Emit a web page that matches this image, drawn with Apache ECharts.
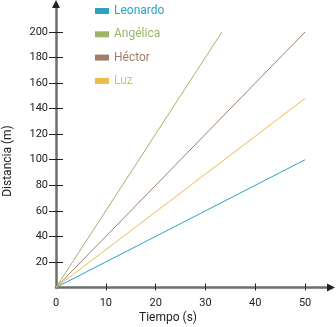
<!DOCTYPE html>
<html><head><meta charset="utf-8">
<script src="https://cdn.jsdelivr.net/npm/echarts@6/dist/echarts.min.js"></script>
<style>html,body{margin:0;padding:0;background:#fff}#c{width:336px;height:327px}</style>
</head><body><div id="c"></div>
<script>
const seriesNames = ['Leonardo', 'Angélica', 'Héctor', 'Luz'];
const seriesColors = ['#29a3bf', '#9bb567', '#a07d6b', '#e8bd4b'];
const leonardo = [[0, 0], [50, 100]];
const angelica = [[0, 0], [33.3, 200]];
const hector = [[0, 0], [50, 200]];
const luz = [[0, 0], [50, 148]];
const xTicks = [0, 10, 20, 30, 40, 50];
const yTicks = [20, 40, 60, 80, 100, 120, 140, 160, 180, 200];
const xName = 'Tiempo (s)';
const yName = 'Distancia (m)';

const chart = echarts.init(document.getElementById('c'));
const font = 'Roboto';
const axisCol = '#6e6e6e';
const dark = '#222';
const dataSets = [leonardo, angelica, hector, luz];

function xAx(inside, main) {
  return {
    type: 'value', min: 0, max: 55.2, position: 'bottom',
    axisLine: main
      ? { show: true, onZero: false, lineStyle: { color: axisCol, width: 2.5 } }
      : { show: true, onZero: false, lineStyle: { color: dark, width: 0 }, symbol: ['none', 'triangle'], symbolSize: [8, 8] },
    axisTick: { show: true, inside: inside, length: inside ? 4 : 3, customValues: xTicks.slice(1), lineStyle: { color: dark, width: 1 } },
    axisLabel: { show: main, customValues: xTicks, margin: 10, fontFamily: font, fontSize: 11, color: dark },
    splitLine: { show: false }
  };
}
function yAx(inside, main) {
  return {
    type: 'value', min: 0, max: 221.9, position: 'left',
    axisLine: main
      ? { show: true, onZero: false, lineStyle: { color: axisCol, width: 2.5 } }
      : { show: true, onZero: false, lineStyle: { color: dark, width: 0 }, symbol: ['none', 'triangle'], symbolSize: [8, 8] },
    axisTick: { show: true, inside: inside, length: 7, customValues: yTicks, lineStyle: { color: dark, width: 1 } },
    axisLabel: { show: main, customValues: yTicks, margin: 8, fontFamily: font, fontSize: 11, color: dark },
    splitLine: { show: false }
  };
}

chart.setOption({
  animation: false,
  grid: { left: 56, right: 5, top: 4, bottom: 39.5, containLabel: false },
  legend: {
    orient: 'vertical', left: 95, top: 5, padding: 0, itemWidth: 14, itemHeight: 6, itemGap: 11.3,
    icon: 'rect',
    data: seriesNames.map((n, i) => ({ name: n, textStyle: { color: seriesColors[i] } })),
    textStyle: { fontFamily: font, fontSize: 12 }
  },
  xAxis: [xAx(false, true), xAx(true, false)],
  yAxis: [yAx(false, true), yAx(true, false)],
  series: seriesNames.map((n, i) => ({
    name: n, type: 'line', data: dataSets[i], showSymbol: false, symbol: 'none',
    color: seriesColors[i], lineStyle: { width: 1, color: seriesColors[i] }, z: 1
  })),
  graphic: [
    { type: 'text', x: 168, y: 318, style: { text: xName, font: '12px Roboto', fill: dark, align: 'center', verticalAlign: 'middle' } },
    { type: 'text', x: 8, y: 161, rotation: Math.PI / 2, style: { text: yName, font: '12px Roboto', fill: dark, align: 'center', verticalAlign: 'middle' } }
  ]
});
</script></body></html>
